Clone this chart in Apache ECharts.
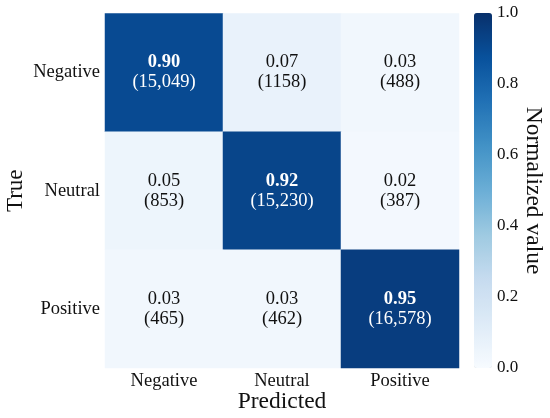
<!DOCTYPE html>
<html>
<head>
<meta charset="utf-8">
<script src="https://cdn.jsdelivr.net/npm/echarts@6/dist/echarts.min.js"></script>
<style>
  html, body { margin: 0; padding: 0; background: #fff; }
  #main { width: 550px; height: 418px; }
</style>
</head>
<body>
<div id="main"></div>
<script>
var predicted = ["Negative", "Neutral", "Positive"];
var trueLabels = ["Negative", "Neutral", "Positive"];
// rows = true class, cols = predicted class
var normValues = [
  [0.90, 0.07, 0.03],
  [0.05, 0.92, 0.02],
  [0.03, 0.03, 0.95]
];
var counts = [
  ["15,049", "1158", "488"],
  ["853", "15,230", "387"],
  ["465", "462", "16,578"]
];
var colorbarTicks = [0.0, 0.2, 0.4, 0.6, 0.8, 1.0];

var blues = ["#f7fbff", "#deebf7", "#c6dbef", "#9ecae1", "#6baed6",
             "#4292c6", "#2171b5", "#08519c", "#08306b"];
var font = "Liberation Serif";

var data = [];
for (var r = 0; r < trueLabels.length; r++) {
  for (var c = 0; c < predicted.length; c++) {
    data.push([c, r, normValues[r][c], counts[r][c]]);
  }
}

var myChart = echarts.init(document.getElementById("main"));
myChart.setOption({
  animation: false,
  grid: [
    { left: 105, right: 91, top: 13.5, bottom: 50, outerBoundsMode: "none", containLabel: false },
    { left: 474, width: 18, top: 13, height: 355, outerBoundsMode: "none", containLabel: false }
  ],
  xAxis: [
    {
      type: "category",
      data: predicted,
      gridIndex: 0,
      axisLine: { show: false },
      axisTick: { show: false },
      splitArea: { show: false },
      axisLabel: { fontFamily: font, fontSize: 18.5, color: "#111", margin: 4 },
      name: "Predicted",
      nameLocation: "middle",
      nameMoveOverlap: false,
      nameGap: 22,
      nameTextStyle: { fontFamily: font, fontSize: 23.5, color: "#111" }
    },
    { type: "value", gridIndex: 1, show: false, min: 0, max: 1 }
  ],
  yAxis: [
    {
      type: "category",
      data: trueLabels,
      inverse: true,
      gridIndex: 0,
      axisLine: { show: false },
      axisTick: { show: false },
      axisLabel: { fontFamily: font, fontSize: 18.5, color: "#111", margin: 5 },
      name: "True",
      nameLocation: "middle",
      nameMoveOverlap: false,
      nameGap: 78,
      nameRotate: 90,
      nameTextStyle: { fontFamily: font, fontSize: 23, color: "#111" }
    },
    {
      type: "value",
      gridIndex: 1,
      position: "right",
      min: 0,
      max: 1,
      interval: 0.2,
      axisLine: { show: false },
      axisTick: { show: false },
      splitLine: { show: false },
      axisLabel: {
        fontFamily: font, fontSize: 17, color: "#111", margin: 5,
        formatter: function (v) { return v.toFixed(1); }
      },
      name: "Normalized value",
      nameLocation: "middle",
      nameMoveOverlap: false,
      nameGap: 29,
      nameRotate: -90,
      nameTextStyle: { fontFamily: font, fontSize: 23.5, color: "#111" }
    }
  ],
  visualMap: {
    type: "continuous",
    min: 0,
    max: 1,
    dimension: 2,
    seriesIndex: 0,
    calculable: false,
    show: true,
    left: 474,
    top: 13,
    padding: 0,
    itemWidth: 18,
    itemHeight: 355,
    text: null,
    showLabel: false,
    inRange: { color: blues }
  },
  series: [
    {
      type: "heatmap",
      xAxisIndex: 0,
      yAxisIndex: 0,
      data: data,
      label: {
        show: true,
        formatter: function (p) {
          var v = p.value[2].toFixed(2);
          var n = "(" + p.value[3] + ")";
          if (p.value[0] === p.value[1]) {
            return "{b|" + v + "}\n{w|" + n + "}";
          }
          return "{n|" + v + "}\n{n|" + n + "}";
        },
        rich: {
          b: { fontFamily: font, fontSize: 18.5, fontWeight: "bold", color: "#fff", lineHeight: 20 },
          w: { fontFamily: font, fontSize: 18.5, color: "#fff", lineHeight: 20 },
          n: { fontFamily: font, fontSize: 18.5, color: "#111", lineHeight: 20 }
        }
      },
      itemStyle: { borderWidth: 0 },
      emphasis: { disabled: true }
    }
  ]
});
</script>
</body>
</html>
